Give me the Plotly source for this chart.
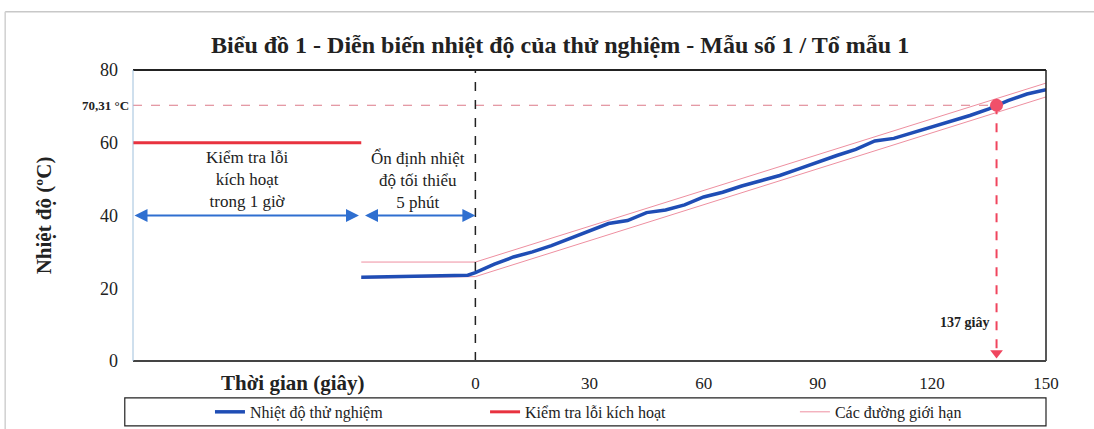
import plotly.graph_objects as go

# ---- data ----
time_pre = [-30, -25, -20, -15, -10, -5, -2]
temp_pre = [23.0, 23.1, 23.3, 23.3, 23.3, 23.4, 23.6]
time_test = [0, 5, 10, 15, 20, 25, 30, 35, 40, 45, 50, 55, 60, 65, 70, 75, 80, 85, 90,
             95, 100, 105, 110, 115, 120, 125, 130, 135, 137, 140, 145, 150]
temp_test = [24.3, 26.6, 28.6, 30.0, 31.7, 33.7, 35.9, 37.8, 38.6, 40.8, 41.5, 42.9, 45.1,
             46.4, 48.1, 49.6, 51.0, 52.8, 54.7, 56.5, 58.2, 60.5, 61.2, 62.8, 64.3, 65.8,
             67.5, 69.3, 70.31, 71.6, 73.4, 74.6]
upper_x = [-30, 0, 150]
upper_y = [27.2, 27.2, 76.4]
lower_x = [-30, 0, 150]
lower_y = [22.8, 23.2, 72.6]
check_x = [-90, -30]
check_y = [60, 60]
activation_time = 137
activation_temp = 70.31
x_start, x_stab, x_zero, x_end = -90, -30, 0, 150
y_min, y_max = 0, 80
x_ticks = [0, 30, 60, 90, 120, 150]
y_ticks = [0, 20, 40, 60, 80]
arrow_y = 40

SERIF = "Liberation Serif"
BLUE = "#1f4db5"
RED = "#e8323f"
PINK = "#ee8fa0"

fig = go.Figure()

# limit lines
fig.add_trace(go.Scatter(x=upper_x, y=upper_y, mode="lines", line=dict(color=PINK, width=1),
                         name="Các đường giới hạn", showlegend=False))
fig.add_trace(go.Scatter(x=lower_x, y=lower_y, mode="lines", line=dict(color=PINK, width=1),
                         name="Các đường giới hạn", showlegend=False))

# reference dashed lines
fig.add_trace(go.Scatter(x=[x_start, activation_time], y=[activation_temp, activation_temp],
                         mode="lines", line=dict(color="#dc7a88", width=1, dash="dash"),
                         showlegend=False, hoverinfo="skip"))
fig.add_trace(go.Scatter(x=[x_zero, x_zero], y=[y_min, y_max], mode="lines",
                         line=dict(color="#222222", width=1.5, dash="dash"),
                         showlegend=False, hoverinfo="skip"))
fig.add_trace(go.Scatter(x=[activation_time, activation_time], y=[activation_temp, 1.5],
                         mode="lines", line=dict(color="#f0455e", width=2, dash="dash"),
                         showlegend=False, hoverinfo="skip"))
fig.add_trace(go.Scatter(x=[activation_time], y=[2.2], mode="markers",
                         marker=dict(symbol="triangle-down", size=11, color="#f0455e"),
                         showlegend=False, hoverinfo="skip"))

# test temperature
fig.add_trace(go.Scatter(x=time_pre + time_test, y=temp_pre + temp_test, mode="lines",
                         line=dict(color=BLUE, width=3.5), name="Nhiệt độ thử nghiệm",
                         legend="legend"))
# activation check
fig.add_trace(go.Scatter(x=check_x, y=check_y, mode="lines", line=dict(color=RED, width=3),
                         name="Kiểm tra lỗi kích hoạt", legend="legend2"))
# legend entry for limit lines
fig.add_trace(go.Scatter(x=[None], y=[None], mode="lines", line=dict(color=PINK, width=1),
                         name="Các đường giới hạn", legend="legend3"))
# activation point
fig.add_trace(go.Scatter(x=[activation_time], y=[activation_temp], mode="markers",
                         marker=dict(color="#f0506a", size=13), showlegend=False))

annotations = [
    dict(x=x_stab - 0.6, y=arrow_y, ax=x_start, ay=arrow_y, xref="x", yref="y", axref="x", ayref="y",
         showarrow=True, arrowhead=2, startarrowhead=2, arrowside="end+start", arrowsize=1.3,
         arrowwidth=2, arrowcolor="#2f6fd0", text=""),
    dict(x=x_zero, y=arrow_y, ax=x_stab + 0.6, ay=arrow_y, xref="x", yref="y", axref="x", ayref="y",
         showarrow=True, arrowhead=2, startarrowhead=2, arrowside="end+start", arrowsize=1.3,
         arrowwidth=2, arrowcolor="#2f6fd0", text=""),
    dict(x=(x_start + x_stab) / 2, y=49.8, xref="x", yref="y", showarrow=False,
         text="Kiểm tra lỗi<br>kích hoạt<br>trong 1 giờ",
         font=dict(family=SERIF, size=17, color="#222")),
    dict(x=(x_stab + x_zero) / 2, y=49.8, xref="x", yref="y", showarrow=False,
         text="Ổn định nhiệt<br>độ tối thiểu<br>5 phút",
         font=dict(family=SERIF, size=17, color="#222")),
    dict(x=activation_time - 1.5, y=10.7, xref="x", yref="y", xanchor="right", showarrow=False,
         text="<b>%d giây</b>" % activation_time, font=dict(family=SERIF, size=14, color="#222")),
    dict(x=0, y=activation_temp, xref="paper", yref="y", xanchor="right", showarrow=False,
         xshift=-2, text="<b>70,31 °C</b>", font=dict(family=SERIF, size=13, color="#222")),
    dict(x=0.175, y=-0.076, xref="paper", yref="paper", showarrow=False, xanchor="center",
         yanchor="middle",
         text="<b>Thời gian (giây)</b>", font=dict(family=SERIF, size=21, color="#222")),
]

shapes = [
    # plot frame
    dict(type="line", xref="paper", yref="paper", x0=0, x1=1, y0=1, y1=1, line=dict(color="#222", width=2)),
    dict(type="line", xref="paper", yref="paper", x0=1, x1=1, y0=0, y1=1, line=dict(color="#222", width=1.5)),
    dict(type="line", xref="paper", yref="paper", x0=0, x1=1, y0=0, y1=0, line=dict(color="#444", width=2)),
    dict(type="line", xref="paper", yref="paper", x0=0, x1=0, y0=0, y1=1, line=dict(color="#9fc0dc", width=1)),
    # legend box
    dict(type="rect", xref="paper", yref="paper", x0=-0.009, x1=1.0, y0=-0.223, y1=-0.127,
         line=dict(color="#222", width=1.2)),
    # page border
    dict(type="line", xref="paper", yref="paper", x0=-0.14, x1=1.1, y0=1.2, y1=1.2,
         line=dict(color="#c8c8c8", width=1.5)),
    dict(type="line", xref="paper", yref="paper", x0=-0.14, x1=-0.14, y0=-0.24, y1=1.2,
         line=dict(color="#d0d0d0", width=1.5)),
]

legend_common = dict(orientation="h", xanchor="left", y=-0.175, yanchor="middle",
                     bgcolor="rgba(0,0,0,0)", font=dict(family=SERIF, size=16, color="#222"))

fig.update_layout(
    width=1094, height=429,
    margin=dict(l=133, r=48, t=70, b=68, autoexpand=False),
    paper_bgcolor="white", plot_bgcolor="white",
    title=dict(text="<b>Biểu đồ 1 - Diễn biến nhiệt độ của thử nghiệm - Mẫu số 1 / Tổ mẫu 1</b>",
               x=0.512, xanchor="center", y=0.897, yanchor="middle",
               font=dict(family=SERIF, size=24, color="#222")),
    xaxis=dict(range=[x_start, x_end], tickvals=x_ticks, ticktext=[str(v) for v in x_ticks],
               showgrid=False, zeroline=False, showline=False, ticks="",
               ticklabelstandoff=10,
               tickfont=dict(family=SERIF, size=17, color="#222")),
    yaxis=dict(range=[y_min, y_max], tickvals=y_ticks, showgrid=False, zeroline=False,
               showline=False, ticks="", ticklabelstandoff=14,
               tickfont=dict(family=SERIF, size=18, color="#222"),
               title=dict(text="<b>Nhiệt độ (ºC)</b>", standoff=42,
                          font=dict(family=SERIF, size=21, color="#222"))),
    legend=dict(x=0.0843, **legend_common),
    legend2=dict(x=0.3856, **legend_common),
    legend3=dict(x=0.725, **legend_common),
    annotations=annotations,
    shapes=shapes,
    showlegend=True,
)

fig.write_html("out.html", config={"displayModeBar": False},
               post_script="document.body.style.margin='0';")
